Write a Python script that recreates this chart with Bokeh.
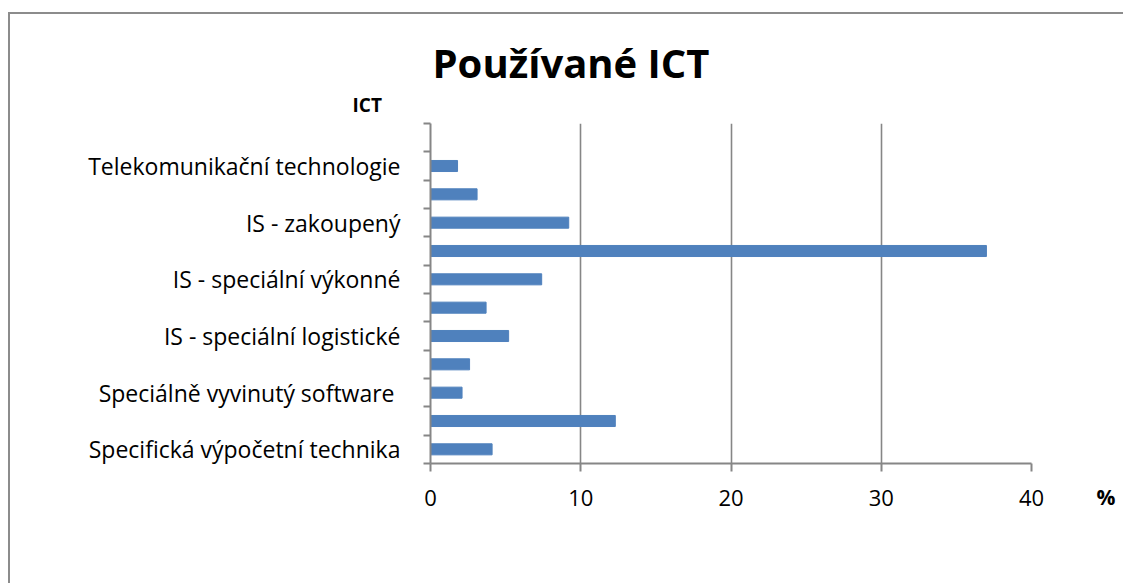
from bokeh.plotting import figure
from bokeh.models import FixedTicker, ColumnDataSource, Range1d, Title
from bokeh.embed import file_html
from bokeh.resources import INLINE

# Data (bottom to top); the top slot of the axis is left empty as in the original
categories = ["Specifická výpočetní technika", "", "Speciálně vyvinutý software ", "",
              "IS - speciální logistické", "", "IS - speciální výkonné", "",
              "IS - zakoupený", "", "Telekomunikační technologie"]
values = [4.1, 12.3, 2.1, 2.6, 5.2, 3.7, 7.4, 37.0, 9.2, 3.1, 1.8]
x_ticks = [0, 10, 20, 30, 40]

FONT = "Open Sans"
GRAY = "#868686"
BLUE = "#4F81BD"

pos = list(range(len(categories)))
n_slots = len(categories) + 1
src = ColumnDataSource(dict(y=pos, v=values))

W, H = 1115, 571
p = figure(width=W, height=H, output_backend="svg", toolbar_location=None,
           x_range=Range1d(0, 40), y_range=Range1d(-0.5, n_slots - 0.5),
           min_border_left=420, min_border_right=W - 1021,
           min_border_top=109, min_border_bottom=H - 449)
p.margin = (12, 0, 0, 8)
p.styles = {"border-top": "2px solid #8c8c8c", "border-left": "2px solid #8c8c8c",
            "box-sizing": "border-box"}
p.outline_line_color = None
p.background_fill_color = "white"
p.border_fill_color = "white"

p.title.text = "Používané ICT"
p.title.text_font = FONT
p.title.text_font_style = "bold"
p.title.text_font_size = "40px"
p.title.text_color = "black"
p.title.align = "left"
p.title.offset = 2
p.title.standoff = -12

p.add_layout(Title(text="ICT", align="left", offset=-78, text_font=FONT,
                   text_font_style="bold", text_font_size="19px", text_color="black",
                   standoff=12), "above")

p.hbar(y="y", right="v", left=0, height=0.39, source=src, color=BLUE)

# x axis
p.xaxis.ticker = FixedTicker(ticks=x_ticks)
p.xaxis.axis_line_color = GRAY
p.xaxis.axis_line_width = 2
p.xaxis.major_tick_line_color = GRAY
p.xaxis.major_tick_line_width = 2
p.xaxis.major_tick_out = 8
p.xaxis.major_tick_in = 0
p.xaxis.minor_tick_line_color = None
p.xaxis.major_label_text_font = FONT
p.xaxis.major_label_text_font_size = "22px"
p.xaxis.major_label_text_color = "black"
p.xaxis.major_label_standoff = 18

# unit of the x axis, to the right of its tick labels
p.add_layout(Title(text="%", align="right", offset=-84, vertical_align="top",
                   text_font=FONT, text_font_style="bold", text_font_size="21px",
                   text_color="black", standoff=-52), "below")

# y axis
p.yaxis.ticker = FixedTicker(ticks=pos, minor_ticks=[i - 0.5 for i in range(n_slots + 1)])
p.yaxis.major_label_overrides = {i: c for i, c in enumerate(categories)}
p.yaxis.axis_line_color = GRAY
p.yaxis.axis_line_width = 2
p.yaxis.major_tick_line_color = None
p.yaxis.major_tick_out = 0
p.yaxis.major_tick_in = 0
p.yaxis.minor_tick_line_color = GRAY
p.yaxis.minor_tick_line_width = 2
p.yaxis.minor_tick_out = 7
p.yaxis.minor_tick_in = 0
p.yaxis.major_label_text_font = FONT
p.yaxis.major_label_text_font_size = "23px"
p.yaxis.major_label_text_color = "black"
p.yaxis.major_label_standoff = 23

p.xgrid.ticker = FixedTicker(ticks=x_ticks)
p.xgrid.grid_line_color = GRAY
p.xgrid.grid_line_width = 1.6
p.ygrid.grid_line_color = None

open("out.html", "w").write(file_html(p, INLINE))
